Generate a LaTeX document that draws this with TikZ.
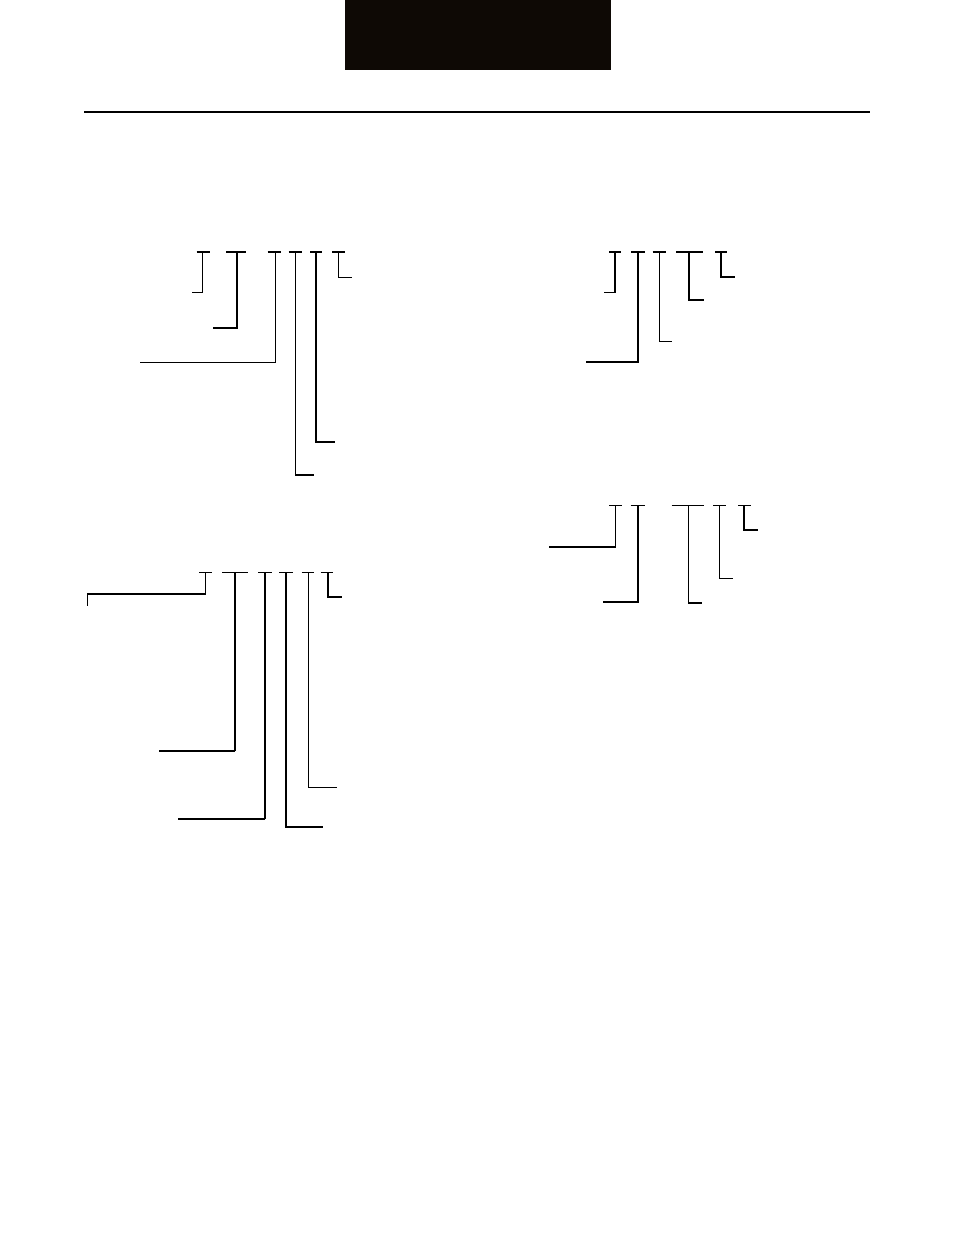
\documentclass[tikz,border=0pt]{standalone}
\begin{document}
\begin{tikzpicture}[x=0.75pt,y=-0.75pt,
  thinln/.style={line width=0.8pt,black},
  thickln/.style={line width=1.6pt,black},
  barthin/.style={line width=1.1pt,black},
  barthick/.style={line width=1.6pt,black}]
\useasboundingbox (0,0) rectangle (954,1235);
\fill[white] (0,0) rectangle (954,1235);
% header
\fill[black!93!brown] (345,0) rectangle (611,70);
\draw[line width=1.5pt] (84,111.5) -- (870,111.5);

% ---- group 1 (top left)
\draw[barthick] (196.7,252) -- (210,252);
\draw[thinln] (202.7,252) -- (202.7,292.7) -- (192,292.7);
\draw[barthick] (226,252) -- (246,252);
\draw[thickln] (236.7,252) -- (236.7,328.3) -- (212.7,328.3);
\draw[barthick] (267.7,252) -- (280.7,252);
\draw[thinln] (275.3,252) -- (275.3,362.3) -- (140,362.3);
\draw[barthick] (288.7,252) -- (301.7,252);
\draw[thinln] (295.7,252) -- (295.7,475) -- (314,475);
\draw[barthick] (310,252) -- (322,252);
\draw[thickln] (315.7,252) -- (315.7,441.7) -- (334.7,441.7);
\draw[barthick] (332.3,252) -- (345,252);
\draw[thinln] (338.7,252) -- (338.7,277.3) -- (351.7,277.3);

% ---- group 2 (top right)
\draw[barthick] (609.3,252) -- (620.7,252);
\draw[thinln] (615,252) -- (615,292.7) -- (604,292.7);
\draw[barthick] (631,252) -- (645,252);
\draw[thickln] (638,252) -- (638,362.3) -- (586,362.3);
\draw[barthick] (652.7,252) -- (666,252);
\draw[thinln] (659.3,252) -- (659.3,341.7) -- (671.7,341.7);
\draw[barthick] (676,252) -- (702.7,252);
\draw[thickln] (689.3,252) -- (689.3,300) -- (704,300);
\draw[barthick] (715,252) -- (726.7,252);
\draw[thickln] (720.7,252) -- (720.7,277.3) -- (734.7,277.3);

% ---- group 3 (middle right)
\draw[barthin] (609,505.7) -- (621.7,505.7);
\draw[thinln] (615.7,505.7) -- (615.7,546.7);
\draw[thickln] (615.7,546.7) -- (549,546.7);
\draw[barthin] (630.7,505.7) -- (645,505.7);
\draw[thickln] (637.7,505.7) -- (637.7,601.7) -- (603.3,601.7);
\draw[barthin] (671.7,505.7) -- (704.3,505.7);
\draw[thinln] (688.3,505.7) -- (688.3,602.7);
\draw[thickln] (688.3,602.7) -- (702,602.7);
\draw[barthin] (713.3,505.7) -- (726,505.7);
\draw[thinln] (719.3,505.7) -- (719.3,578.3) -- (732.7,578.3);
\draw[barthin] (738.3,505.7) -- (750.7,505.7);
\draw[thickln] (744,505.7) -- (744,530) -- (757.7,530);

% ---- group 4 (bottom left)
\draw[barthin] (199.3,572.3) -- (211.7,572.3);
\draw[thinln] (205.7,572.3) -- (205.7,594);
\draw[thickln] (205.7,594) -- (87.3,594);
\draw[thinln] (87.3,594) -- (87.3,605.7);
\draw[barthin] (222.3,572.3) -- (247.7,572.3);
\draw[thinln] (235,572.3) -- (235,750.7);
\draw[thickln] (235,750.7) -- (159,750.7);
\draw[barthin] (258.3,572.3) -- (271.7,572.3);
\draw[thickln] (265,572.3) -- (265,819);
\draw[thinln] (265,819) -- (178.3,819);
\draw[barthin] (279,572.3) -- (293.3,572.3);
\draw[thickln] (286,572.3) -- (286,827.3) -- (322.7,827.3);
\draw[barthin] (301.7,572.3) -- (314.3,572.3);
\draw[thinln] (308.3,572.3) -- (308.3,787.3) -- (336.7,787.3);
\draw[barthin] (320.7,572.3) -- (333.3,572.3);
\draw[thickln] (327.7,572.3) -- (327.7,597.3) -- (341.7,597.3);
\end{tikzpicture}
\end{document}
